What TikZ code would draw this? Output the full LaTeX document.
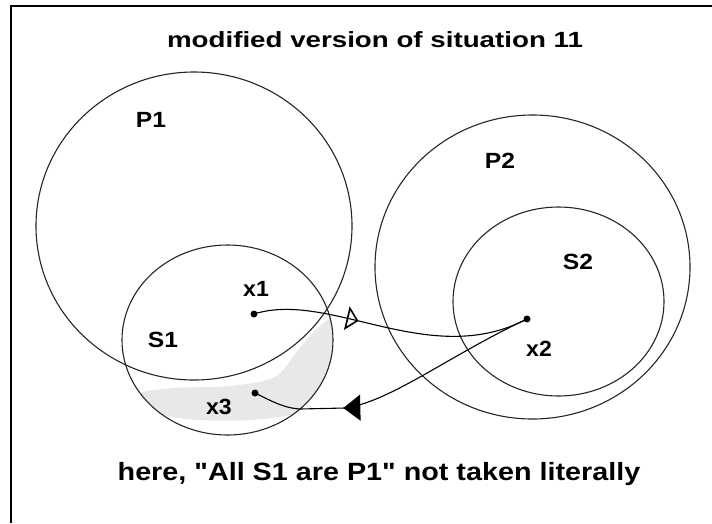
\documentclass[tikz,border=0pt]{standalone}
\usepackage{fontspec}
\setmainfont{Liberation Sans}
% plain family without TeX quote mapping, so " stays a straight quote
\newfontfamily\plainsans{Liberation Sans}
\usetikzlibrary{arrows.meta,decorations.markings}
\newcommand{\wide}[2]{\scalebox{#1}[1]{#2}}
\begin{document}
\begin{tikzpicture}[x=1pt,y=-1pt,
  setline/.style={line width=1.1pt, black!85},
  lbl/.style={font=\plainsans\fontsize{22}{22}\selectfont\bfseries, inner sep=0pt},
  caption/.style={inner sep=0pt, anchor=base},
  dot/.style={circle, fill=black, inner sep=0pt, minimum width=7pt},
  link/.style={line width=1.1pt, black}
]
\useasboundingbox (0,0) rectangle (712,523);
\fill[white] (0,0) rectangle (712,523);
% frame (top and left edges)
\draw[line width=2.5pt] (712,6) -- (11,6) -- (11,523);

% grey patch: part of S1 lying outside P1
\begin{scope}[even odd rule]
  \clip (227.5,340) ellipse [x radius=105.5, y radius=95];
  \clip (0,0) rectangle (712,523)
        (194,226) ellipse [x radius=158, y radius=154];
  \fill[gray!18] plot[smooth cycle] coordinates {
    (140,394) (175,388) (230,386) (275,377) (298,350) (318,328)
    (336,318) (340,360) (325,400) (295,414) (250,420) (200,420) (160,414)};
\end{scope}

% the four sets
\draw[setline] (194,226) ellipse [x radius=158, y radius=154];
\draw[setline] (227.5,340) ellipse [x radius=105.5, y radius=95];
\draw[setline] (532.5,267) ellipse [x radius=157.5, y radius=152];
\draw[setline] (558.5,301.5) ellipse [x radius=105.5, y radius=94.5];

% set labels
\node[lbl] (lP1) at (151,120) {\wide{1.12}{P1}};
\node[lbl] (lS1) at (163,340) {\wide{1.12}{S1}};
\node[lbl] (lP2) at (500,161) {\wide{1.12}{P2}};
\node[lbl] (lS2) at (578,262) {\wide{1.12}{S2}};

% elements
\node[dot] (d1) at (254,314) {};
\node[dot] (d2) at (527,319) {};
\node[dot] (d3) at (255,393) {};
\node[lbl] (lx1) at (256,289) {\wide{1.05}{x1}};
\node[lbl] (lx2) at (539,349) {\wide{1.05}{x2}};
\node[lbl] (lx3) at (219,407) {\wide{1.05}{x3}};

% mapping x1 -> x2 (open head)
\draw[link, postaction={decorate}, decoration={markings,
    mark=at position 106pt with {\arrow{Triangle[open, length=12pt, width=24pt, line width=1.6pt]}}}]
  (d1.center) .. controls (330,290) and (430,370) .. (d2.center);

% mapping x2 -> x3 (filled head)
\draw[link, postaction={decorate}, decoration={markings,
    mark=at position 205pt with {\arrow{Triangle[length=17pt, width=26pt]}}}]
  (d2.center) .. controls (450,355) and (390,402) .. (345,408)
  -- (300,409) .. controls (282,408) and (268,399) .. (d3.center);

% captions
\node[caption, font=\plainsans\fontsize{22}{22}\selectfont\bfseries] (title) at (375,47)
  {\wide{1.26}{modified version of situation 11}};
\node[caption, font=\plainsans\fontsize{25}{25}\selectfont\bfseries] (note) at (379,480)
  {\wide{1.15}{here, "All S1 are P1" not taken literally}};
\end{tikzpicture}
\end{document}
